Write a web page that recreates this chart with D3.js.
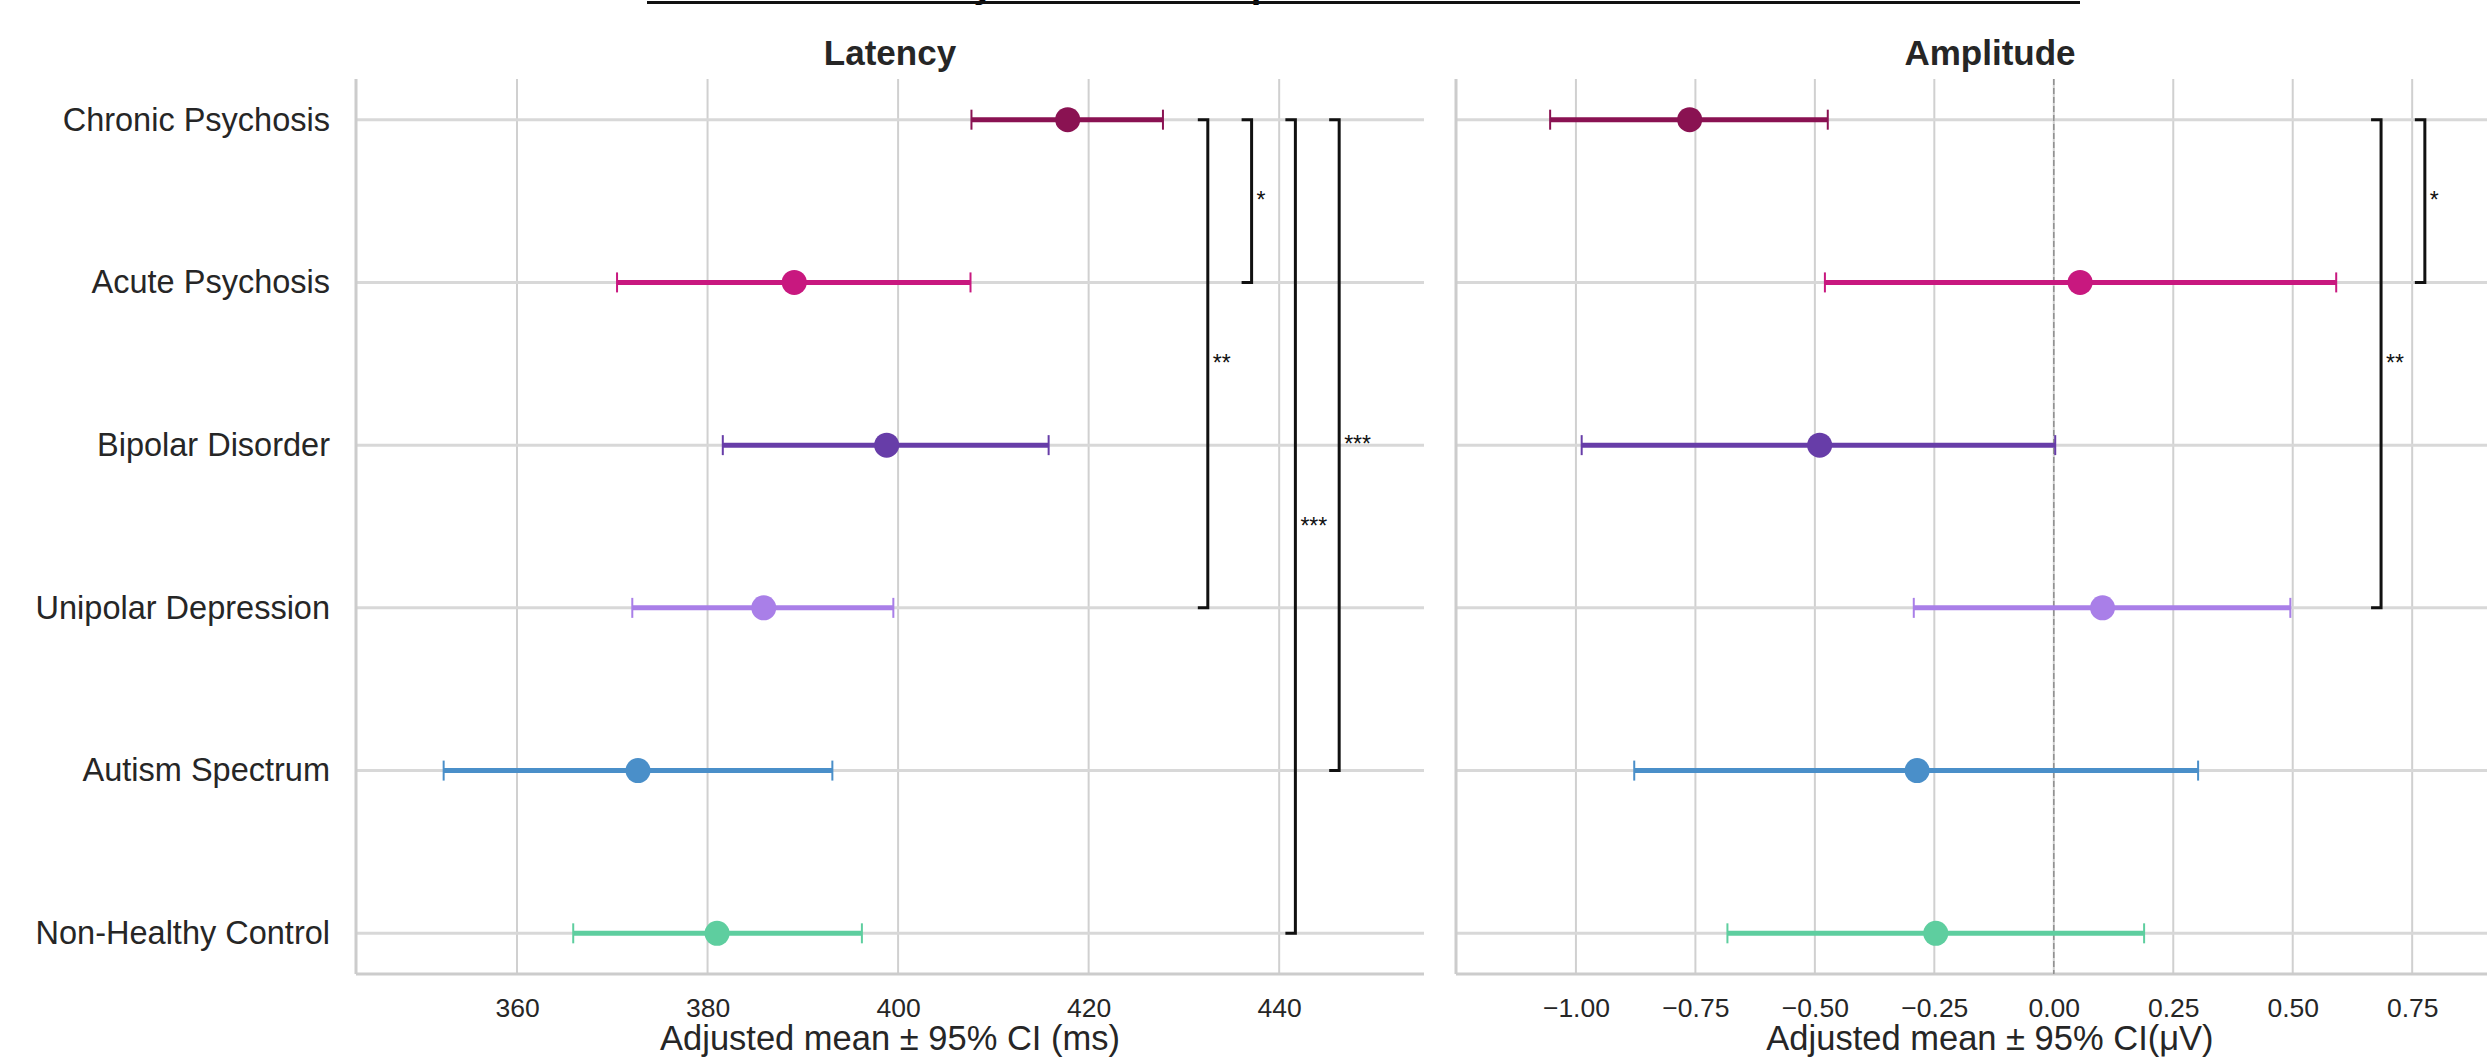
<!DOCTYPE html>
<html>
<head>
<meta charset="utf-8">
<script src="https://cdn.jsdelivr.net/npm/d3@7"></script>
<style>
  html, body { margin: 0; padding: 0; background: #ffffff; }
  svg { display: block; font-family: "Liberation Sans", Arial, Helvetica, sans-serif; }
</style>
</head>
<body>
<svg id="chart" width="2487" height="1061"></svg>
<script>
// ---------------- DATA ----------------
const categories = ["Chronic Psychosis", "Acute Psychosis", "Bipolar Disorder",
                    "Unipolar Depression", "Autism Spectrum", "Non-Healthy Control"];
const groupColors = ["#8A1252", "#C8187F", "#673DA8", "#A97FE8", "#4A8FC9", "#5ECE9F"];

// Latency (ms): adjusted mean and 95% CI
const latencyMean = [417.8, 389.1, 398.8, 385.9, 372.7, 381.0];
const latencyLow  = [407.7, 370.5, 381.6, 372.1, 352.3, 365.9];
const latencyHigh = [427.8, 407.6, 415.8, 399.5, 393.1, 396.2];

// Amplitude (µV): adjusted mean and 95% CI
const amplitudeMean = [-0.762, 0.055, -0.490, 0.102, -0.286, -0.247];
const amplitudeLow  = [-1.054, -0.479, -0.988, -0.293, -0.878, -0.683];
const amplitudeHigh = [-0.473, 0.591, 0.003, 0.495, 0.302, 0.189];

const latencyTicks = [360, 380, 400, 420, 440];
const amplitudeTicks = [-1.00, -0.75, -0.50, -0.25, 0.00, 0.25, 0.50, 0.75];

// significance brackets: [from group, to group, label, stacking level]
const latencyBrackets = [
  ["Chronic Psychosis", "Unipolar Depression", "**", 0],
  ["Chronic Psychosis", "Acute Psychosis", "*", 1],
  ["Chronic Psychosis", "Non-Healthy Control", "***", 2],
  ["Chronic Psychosis", "Autism Spectrum", "***", 3]
];
const amplitudeBrackets = [
  ["Chronic Psychosis", "Unipolar Depression", "**", 0],
  ["Chronic Psychosis", "Acute Psychosis", "*", 1]
];

const suptitleText = "Latency and Mean Amplitude";
const panelTitles = ["Latency", "Amplitude"];
const xLabels = ["Adjusted mean \u00B1 95% CI (ms)", "Adjusted mean \u00B1 95% CI(\u03BCV)"];

// ---------------- LAYOUT ----------------
const svg = d3.select("#chart");
const plotTop = 79, plotBottom = 974;
const textColor = "#262626";

const y = d3.scalePoint().domain(categories).range([plotTop, plotBottom]).padding(0.25);

const panels = [
  { x0: 356, x1: 1424, domain: [343.1, 455.2], mean: latencyMean, low: latencyLow, high: latencyHigh,
    ticks: latencyTicks, fmt: d3.format("d"), brackets: latencyBrackets, zero: false },
  { x0: 1456, x1: 2524, domain: [-1.251, 0.984], mean: amplitudeMean, low: amplitudeLow, high: amplitudeHigh,
    ticks: amplitudeTicks, fmt: v => d3.format(".2f")(v).replace("-", "\u2212"), brackets: amplitudeBrackets, zero: true }
];

// suptitle (mostly above the visible area, as in the reference) and its rule
svg.append("text")
  .attr("x", 851).attr("y", -3)
  .attr("font-size", 38).attr("font-weight", "bold").attr("fill", "#000")
  .text(suptitleText);
svg.append("line")
  .attr("x1", 647).attr("x2", 2080).attr("y1", 2.5).attr("y2", 2.5)
  .attr("stroke", "#111").attr("stroke-width", 3);

panels.forEach((p, pi) => {
  const x = d3.scaleLinear().domain(p.domain).range([p.x0, p.x1]);
  const g = svg.append("g");

  // vertical grid
  g.selectAll(".vgrid").data(p.ticks).join("line")
    .attr("x1", d => x(d)).attr("x2", d => x(d))
    .attr("y1", plotTop).attr("y2", plotBottom)
    .attr("stroke", "#d0d0d0").attr("stroke-width", 2);

  // horizontal grid
  g.selectAll(".hgrid").data(categories).join("line")
    .attr("x1", p.x0).attr("x2", p.x1)
    .attr("y1", d => y(d)).attr("y2", d => y(d))
    .attr("stroke", "#d8d8d8").attr("stroke-width", 3);

  // spines
  g.append("line").attr("x1", p.x0).attr("x2", p.x0).attr("y1", plotTop).attr("y2", plotBottom)
    .attr("stroke", "#cccccc").attr("stroke-width", 3);
  g.append("line").attr("x1", p.x0).attr("x2", p.x1).attr("y1", plotBottom).attr("y2", plotBottom)
    .attr("stroke", "#cccccc").attr("stroke-width", 3);

  // zero reference line
  if (p.zero) {
    g.append("line").attr("x1", x(0)).attr("x2", x(0)).attr("y1", plotTop).attr("y2", plotBottom)
      .attr("stroke", "#8f8f8f").attr("stroke-width", 1.5).attr("stroke-dasharray", "6,3");
  }

  // x tick labels
  const axis = d3.axisBottom(x).tickValues(p.ticks).tickFormat(p.fmt).tickSize(0).tickPadding(0);
  const ax = g.append("g").attr("transform", `translate(0,${plotBottom})`).call(axis);
  ax.select(".domain").remove();
  ax.selectAll("text").attr("font-size", 26.5).attr("fill", textColor)
    .attr("font-family", "Liberation Sans, Arial, sans-serif")
    .attr("dy", null).attr("y", 43);

  // x axis label
  g.append("text").attr("x", (p.x0 + p.x1) / 2).attr("y", 1050)
    .attr("text-anchor", "middle").attr("font-size", 34.5).attr("fill", textColor)
    .text(xLabels[pi]);

  // panel title
  g.append("text").attr("x", (p.x0 + p.x1) / 2).attr("y", 65)
    .attr("text-anchor", "middle").attr("font-size", 35).attr("font-weight", "bold")
    .attr("fill", textColor).text(panelTitles[pi]);

  // error bars
  const rows = categories.map((c, i) => ({ c, i, m: p.mean[i], lo: p.low[i], hi: p.high[i], col: groupColors[i] }));
  g.selectAll(".bar").data(rows).join("line")
    .attr("x1", d => x(d.lo)).attr("x2", d => x(d.hi))
    .attr("y1", d => y(d.c)).attr("y2", d => y(d.c))
    .attr("stroke", d => d.col).attr("stroke-width", 5);
  ["lo", "hi"].forEach(k => {
    g.selectAll(".cap" + k).data(rows).join("line")
      .attr("x1", d => x(d[k])).attr("x2", d => x(d[k]))
      .attr("y1", d => y(d.c) - 10).attr("y2", d => y(d.c) + 10)
      .attr("stroke", d => d.col).attr("stroke-width", 2);
  });
  g.selectAll(".dot").data(rows).join("circle")
    .attr("cx", d => x(d.m)).attr("cy", d => y(d.c)).attr("r", 12.5)
    .attr("fill", d => d.col);

  // significance brackets
  const span = p.domain[1] - p.domain[0];
  const base = d3.max(p.high) + span * 0.042;
  p.brackets.forEach(([a, b, lab, lvl]) => {
    const bx = x(base + lvl * span * 0.041);
    const ya = y(a), yb = y(b);
    g.append("path")
      .attr("d", `M${bx - 10},${ya}H${bx}V${yb}H${bx - 10}`)
      .attr("fill", "none").attr("stroke", "#111").attr("stroke-width", 3);
    g.append("text").attr("x", bx + 5).attr("y", (ya + yb) / 2 + 7)
      .attr("font-size", 23).attr("fill", "#111").text(lab);
  });
});

// y tick labels (shared axis, left panel only)
const yAxis = d3.axisLeft(y).tickSize(0).tickPadding(0);
const yg = svg.append("g").attr("transform", "translate(330,0)").call(yAxis);
yg.select(".domain").remove();
yg.selectAll("text").attr("font-size", 32.5).attr("fill", textColor)
  .attr("font-family", "Liberation Sans, Arial, sans-serif");
</script>
</body>
</html>
